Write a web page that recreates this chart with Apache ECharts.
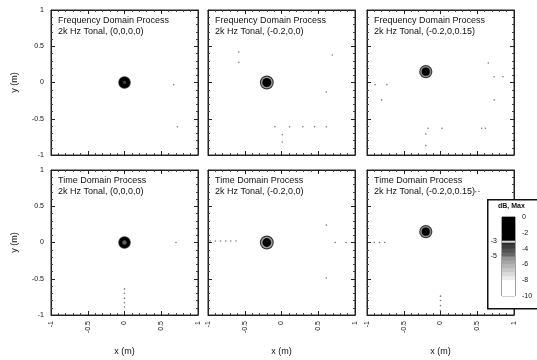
<!DOCTYPE html>
<html><head><meta charset="utf-8">
<script src="https://cdn.jsdelivr.net/npm/echarts@6/dist/echarts.min.js"></script>
<style>html,body{margin:0;padding:0;background:#fff}#c{width:537px;height:360px}</style>
</head><body><div id="c"></div>
<script>
// ---- data ----
const titleLine1 = ['Frequency Domain Process','Frequency Domain Process','Frequency Domain Process',
                    'Time Domain Process','Time Domain Process','Time Domain Process'];
const titleLine2 = ['2k Hz Tonal, (0,0,0,0)','2k Hz Tonal, (-0.2,0,0)','2k Hz Tonal, (-0.2,0,0.15)',
                    '2k Hz Tonal, (0,0,0,0)','2k Hz Tonal, (-0.2,0,0)','2k Hz Tonal, (-0.2,0,0.15) \u00b7'];
const sourceX = [0, -0.2, -0.2, 0, -0.2, -0.2];
const sourceY = [0, 0, 0.15, 0, 0, 0.15];
// contour rings (radius m, level dB), outer to inner
const ringRadius = [
  [0.085, 0.075, 0.025],
  [0.095, 0.08, 0.062],
  [0.09, 0.076, 0.055],
  [0.085, 0.074, 0.03],
  [0.095, 0.08, 0.06],
  [0.09, 0.076, 0.055]
];
const ringLevel = [
  [-3.6, -1, -3.6],
  [-3.5, -5.5, -1],
  [-3.5, -5, -1],
  [-3.6, -1, -4.5],
  [-3.5, -5.5, -1],
  [-3.5, -5, -1]
];
// sparse low-level speckle points per panel
const dotX = [
  [0.67, 0.72],
  [-0.58, -0.58, 0.69, 0.61, -0.09, 0.11, 0.29, 0.45, 0.61, 0.01, 0.01],
  [0.65, 0.73, 0.85, 0.73, -0.8, -0.89, -0.73, -0.17, 0.02, 0.56, 0.61, -0.2, -0.2],
  [0.7, 0, 0, 0, 0, 0],
  [-0.97, -0.9, -0.83, -0.76, -0.69, -0.62, 0.73, 0.88, 0.61, 0.61],
  [-0.97, -0.9, -0.83, -0.76, 0, 0, 0, 0, 0.48]
];
const dotY = [
  [-0.03, -0.61],
  [0.42, 0.28, 0.38, -0.13, -0.61, -0.61, -0.61, -0.61, -0.61, -0.72, -0.82],
  [0.27, 0.08, 0.08, -0.24, -0.24, -0.03, -0.03, -0.63, -0.63, -0.63, -0.63, -0.71, -0.87],
  [0, -0.64, -0.7, -0.77, -0.83, -0.89],
  [0.02, 0.02, 0.02, 0.02, 0.02, 0.02, 0, 0, 0.24, -0.49],
  [0, 0, 0, 0, -0.74, -0.8, -0.87, -0.94, 0.7]
];
const cbBounds = [0, -3, -3.25, -3.5, -4, -4.5, -5, -5.5, -6, -6.5, -7, -7.5, -8, -10];
const cbLeftTicks = [-3, -5];
const cbTitle = 'dB, Max';

// ---- helpers ----
function mix(a, b, t) {
  const pa = [parseInt(a.slice(1,3),16), parseInt(a.slice(3,5),16), parseInt(a.slice(5,7),16)];
  const pb = [parseInt(b.slice(1,3),16), parseInt(b.slice(3,5),16), parseInt(b.slice(5,7),16)];
  return 'rgb(' + pa.map((v,i)=>Math.round(v + (pb[i]-v)*t)).join(',') + ')';
}
function colorFor(l) {
  if (l > -3) return '#000000';
  if (l > -3.25) return '#d8d8d8';
  if (l > -5) return mix('#2a2a2a', '#707070', (-3.25 - l) / 1.75);
  if (l > -8) return mix('#8a8a8a', '#f4f4f4', (-5 - l) / 3);
  return '#ffffff';
}

const FONT = 'Liberation Sans, Arial, sans-serif';
const colLeft = [51, 208, 367];
const rowTop = [10, 170];
const W = 147, H = 145;

const grids = [], xAxes = [], yAxes = [], series = [], graphics = [];
for (let p = 0; p < 6; p++) {
  const r = Math.floor(p / 3), c = p % 3;
  grids.push({left: colLeft[c], top: rowTop[r], width: W, height: H, show: true,
              borderColor: '#222', borderWidth: 1, backgroundColor: 'transparent'});
  const common = {type: 'value', min: -1, max: 1, interval: 0.5, gridIndex: p,
    axisLine: {show: true, onZero: false, lineStyle: {color: '#222', width: 1}},
    axisTick: {show: true, inside: true, length: 4, lineStyle: {color: '#222'}},
    minorTick: {show: true, splitNumber: 5, length: 2, lineStyle: {color: '#444'}},
    splitLine: {show: false}};
  xAxes.push(Object.assign({}, common, {position: 'bottom',
    axisLabel: {show: r === 1, rotate: 90, fontSize: 7, fontFamily: FONT, color: '#111', margin: 6,
      showMinLabel: true, showMaxLabel: true},
    name: r === 1 ? 'x (m)' : '', nameLocation: 'middle', nameGap: 32,
    nameTextStyle: {fontSize: 9, fontFamily: FONT, color: '#111'}}));
  xAxes.push(Object.assign({}, common, {position: 'top', axisLabel: {show: false}}));
  yAxes.push(Object.assign({}, common, {position: 'left',
    axisLabel: {show: c === 0, fontSize: 7, fontFamily: FONT, color: '#111', margin: 7,
      showMinLabel: true, showMaxLabel: true},
    name: c === 0 ? 'y (m)' : '', nameLocation: 'middle', nameGap: 32, nameRotate: 90,
    nameTextStyle: {fontSize: 9, fontFamily: FONT, color: '#111'}}));
  yAxes.push(Object.assign({}, common, {position: 'right', axisLabel: {show: false}}));

  const rings = ringRadius[p].map((rad, i) => [sourceX[p], sourceY[p], rad, ringLevel[p][i]]);
  series.push({type: 'custom', xAxisIndex: 2*p, yAxisIndex: 2*p, data: rings, z: 5,
    renderItem: function (params, api) {
      const ctr = api.coord([api.value(0), api.value(1)]);
      const s = api.size([api.value(2), api.value(2)]);
      return {type: 'circle', shape: {cx: ctr[0], cy: ctr[1], r: (s[0] + s[1]) / 2},
        style: {fill: colorFor(api.value(3))}};
    }});
  series.push({type: 'scatter', xAxisIndex: 2*p, yAxisIndex: 2*p, symbolSize: 1.6, z: 4,
    itemStyle: {color: '#555'}, silent: true,
    data: dotX[p].map((x, i) => [x, dotY[p][i]])});

  graphics.push({type: 'text', left: colLeft[c] + 7, top: rowTop[r] + 5,
    style: {text: titleLine1[p] + '\n' + titleLine2[p], font: '9px ' + FONT, fill: '#111', lineHeight: 11}});
}

// colorbar grid
const cbi = 6;
grids.push({left: 502, top: 217, width: 13, height: 79, show: true, borderColor: '#444', borderWidth: 1,
  backgroundColor: 'transparent', z: 60});
xAxes.push({type: 'value', gridIndex: cbi, min: 0, max: 1, show: false, z: 60});
yAxes.push({type: 'value', gridIndex: cbi, min: -10, max: 0, interval: 2, position: 'right', z: 60,
  axisLine: {show: false}, axisTick: {show: false}, splitLine: {show: false},
  axisLabel: {fontSize: 7, fontFamily: FONT, color: '#111', margin: 7, showMinLabel: true, showMaxLabel: true}});
yAxes.push({type: 'value', gridIndex: cbi, min: -10, max: 0, interval: 1, position: 'left', z: 60,
  axisLine: {show: false}, axisTick: {show: false}, splitLine: {show: false},
  axisLabel: {fontSize: 7, fontFamily: FONT, color: '#111', margin: 5,
    formatter: v => cbLeftTicks.indexOf(v) >= 0 ? String(v) : ''}});
const cbSegs = [];
for (let i = 0; i < cbBounds.length - 1; i++) cbSegs.push([cbBounds[i], cbBounds[i+1]]);
series.push({type: 'custom', xAxisIndex: 12, yAxisIndex: 12, z: 61, data: cbSegs,
  renderItem: function (params, api) {
    const a = api.coord([0, api.value(0)]);
    const b = api.coord([1, api.value(1)]);
    return {type: 'rect', shape: {x: a[0], y: a[1], width: b[0] - a[0], height: b[1] - a[1] + 0.5},
      style: {fill: colorFor((api.value(0) + api.value(1)) / 2)}};
  }});
graphics.push({type: 'rect', left: 487, top: 199, z: 50,
  shape: {width: 60, height: 109}, style: {fill: '#fff', stroke: '#111', lineWidth: 1.5}});
graphics.push({type: 'text', left: 498, top: 203, z: 62,
  style: {text: cbTitle, font: 'bold 7px ' + FONT, fill: '#111'}});

const chart = echarts.init(document.getElementById('c'), null, {renderer: 'canvas'});
chart.setOption({
  animation: false,
  backgroundColor: '#fff',
  grid: grids, xAxis: xAxes, yAxis: yAxes, series: series, graphic: graphics
});
</script></body></html>
